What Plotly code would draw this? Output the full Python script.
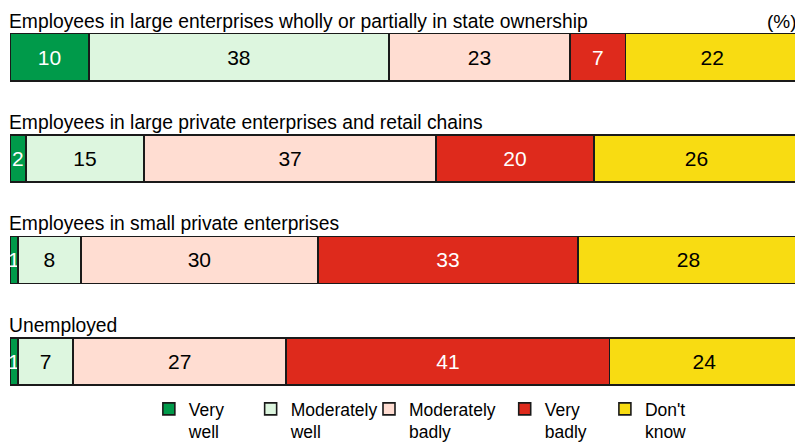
import plotly.graph_objects as go

categories = [
    "Employees in large enterprises wholly or partially in state ownership",
    "Employees in large private enterprises and retail chains",
    "Employees in small private enterprises",
    "Unemployed",
]
series_names = ["Very<br>well", "Moderately<br>well", "Moderately<br>badly", "Very<br>badly", "Don't<br>know"]
very_well = [10, 2, 1, 1]
moderately_well = [38, 15, 8, 7]
moderately_badly = [23, 37, 30, 27]
very_badly = [7, 20, 33, 41]
dont_know = [22, 26, 28, 24]

values = [very_well, moderately_well, moderately_badly, very_badly, dont_know]
colors = ["#009A4A", "#DDF6DF", "#FFDDD2", "#DE2A1C", "#F8DC12"]
text_colors = ["white", "black", "black", "white", "black"]
legend_x = [0.176, 0.305, 0.455, 0.627, 0.754]

ypos = list(range(len(categories)))
FONT = "Liberation Sans, Arial, sans-serif"
legend_ids = ["legend", "legend2", "legend3", "legend4", "legend5"]

fig = go.Figure()
for name, vals, col, tc, lid in zip(series_names, values, colors, text_colors, legend_ids):
    fig.add_trace(go.Bar(
        name=name, y=ypos, x=vals, orientation="h",
        marker=dict(color=col, line=dict(color="#1a1a1a", width=1.6)),
        width=0.465,
        text=[str(v) for v in vals], textposition="inside",
        insidetextanchor="middle",
        textfont=dict(color=tc, size=21, family=FONT),
        hoverinfo="skip", legend=lid,
    ))

for i, cat in enumerate(categories):
    fig.add_annotation(x=0, y=i - 0.2325, xref="x", yref="y", text=cat,
                       showarrow=False, xanchor="left", yanchor="bottom",
                       xshift=-3, font=dict(size=19.3, color="black"))

fig.add_annotation(x=1, y=-0.2325, xref="paper", yref="y", text="(%)",
                   showarrow=False, xanchor="right", yanchor="bottom",
                   font=dict(size=19, color="black"))

legend_layout = {}
for lid, lx in zip(legend_ids, legend_x):
    legend_layout[lid] = dict(orientation="h", x=lx, xanchor="left", y=0.052, yanchor="top",
                              valign="top", font=dict(size=17.5), itemwidth=30,
                              bgcolor="rgba(0,0,0,0)")

fig.update_layout(
    barmode="stack",
    width=795, height=435,
    margin=dict(l=2, r=4, t=0, b=31, autoexpand=False),
    paper_bgcolor="white", plot_bgcolor="white",
    font=dict(family=FONT, size=17.5, color="black"),
    xaxis=dict(range=[0, 100], visible=False),
    yaxis=dict(range=[3.5, -0.485], visible=False),
    uniformtext=dict(minsize=21, mode="show"),
    showlegend=True,
    **legend_layout,
)

fig.write_html("out.html")
